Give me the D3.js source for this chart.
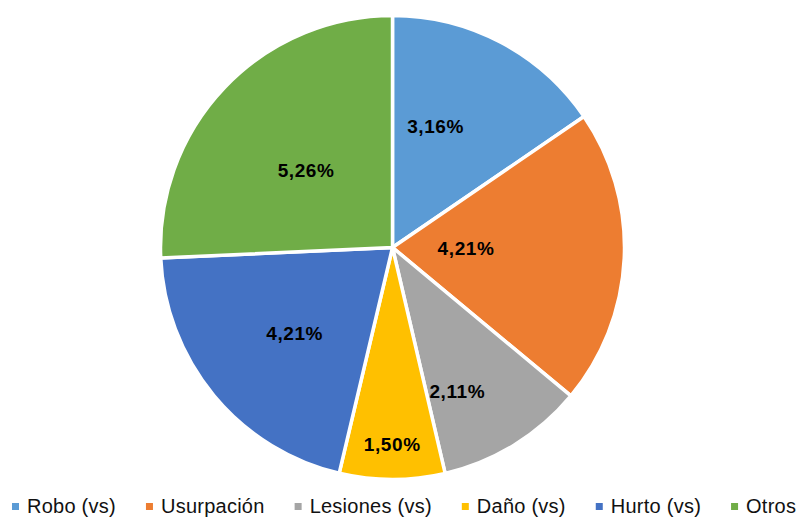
<!DOCTYPE html>
<html>
<head>
<meta charset="utf-8">
<script src="https://cdn.jsdelivr.net/npm/d3@7"></script>
<style>
  html, body { margin: 0; padding: 0; background: #fff; }
  svg { display: block; }
</style>
</head>
<body>
<svg id="chart" width="802" height="519"></svg>
<script>
// Categories and their shares (percent)
const categories = ["Robo (vs)", "Usurpación", "Lesiones (vs)", "Daño (vs)", "Hurto (vs)", "Otros"];
const values = [3.16, 4.21, 2.11, 1.50, 4.21, 5.26];
const valueLabels = ["3,16%", "4,21%", "2,11%", "1,50%", "4,21%", "5,26%"];
const colors = ["#5B9BD5", "#ED7D31", "#A5A5A5", "#FFC000", "#4472C4", "#70AD47"];

// Label placement inside each slice: position along the slice's arc (0..1)
// and distance from the centre as a fraction of the radius.
const labelAlong = [0.35, 0.47, 0.70, 0.50, 0.48, 0.48];
const labelDepth = [0.557, 0.317, 0.68, 0.847, 0.56, 0.50];

const W = 802, H = 519;
const cx = 392.5, cy = 247.5, R = 232;

const svg = d3.select("#chart");

const data = categories.map((c, i) => ({ name: c, value: values[i], label: valueLabels[i], color: colors[i], i }));

const pie = d3.pie().sort(null).value(d => d.value);
const arcs = pie(data);
const arcGen = d3.arc().innerRadius(0).outerRadius(R);

const g = svg.append("g").attr("transform", `translate(${cx},${cy})`);

g.selectAll("path.slice")
  .data(arcs)
  .join("path")
  .attr("class", "slice")
  .attr("d", arcGen)
  .attr("fill", d => d.data.color)
  .attr("stroke", "#fff")
  .attr("stroke-width", 3.5)
  .attr("stroke-linejoin", "miter");

g.selectAll("text.val")
  .data(arcs)
  .join("text")
  .attr("class", "val")
  .attr("transform", d => {
    const a = d.startAngle + (d.endAngle - d.startAngle) * labelAlong[d.data.i];
    const r = R * labelDepth[d.data.i];
    return `translate(${r * Math.sin(a)},${-r * Math.cos(a)})`;
  })
  .attr("text-anchor", "middle")
  .attr("dy", "0.36em")
  .attr("font-family", "'Liberation Sans', Arial, Helvetica, sans-serif")
  .attr("font-weight", "bold")
  .attr("font-size", 19)
  .attr("letter-spacing", 0.6)
  .attr("fill", "#000")
  .text(d => d.data.label);

// Legend: a single row of square swatches and names, laid out left to right
const legend = svg.append("g").attr("class", "legend");
const legendY = 513;      // text baseline
const swatch = 7, swatchGap = 8, itemGap = 30;
let x = 12;
data.forEach(d => {
  const item = legend.append("g");
  item.append("rect")
    .attr("x", x).attr("y", legendY - 10)
    .attr("width", swatch).attr("height", swatch)
    .attr("fill", d.color);
  const t = item.append("text")
    .attr("x", x + swatch + swatchGap)
    .attr("y", legendY)
    .attr("font-family", "'Liberation Sans', Arial, Helvetica, sans-serif")
    .attr("font-size", 20)
    .attr("letter-spacing", 0.25)
    .attr("fill", "#111")
    .text(d.name);
  const w = t.node().getComputedTextLength();
  x += swatch + swatchGap + w + itemGap;
});
</script>
</body>
</html>
